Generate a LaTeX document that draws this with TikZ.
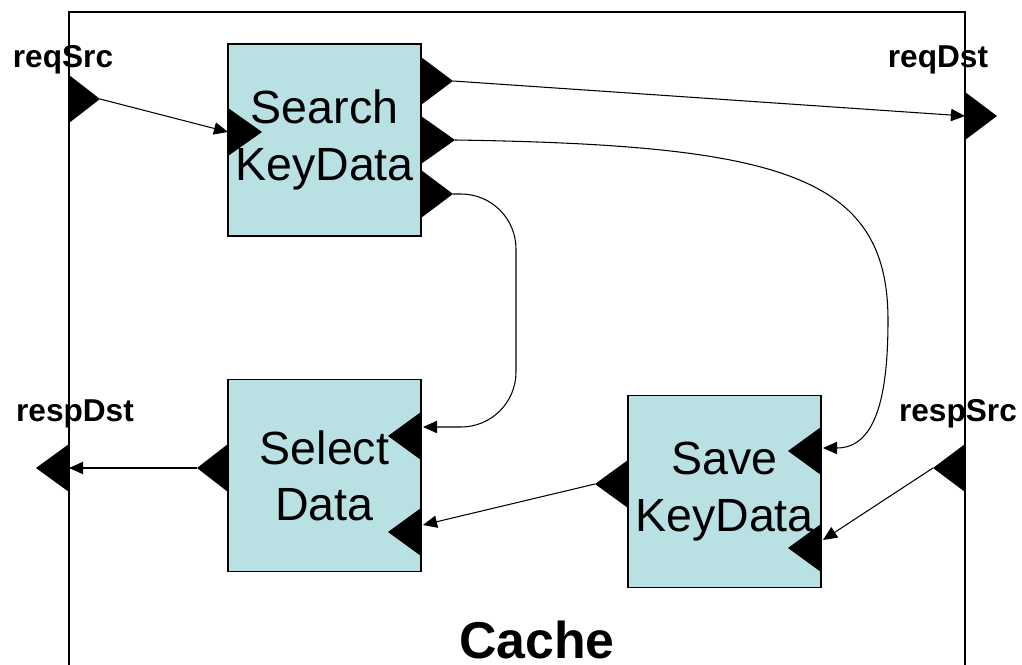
\documentclass[tikz,border=0pt]{standalone}
\usepackage{fontspec}
\setmainfont{Liberation Sans}
\usetikzlibrary{arrows.meta}
\definecolor{boxcyan}{RGB}{185,224,227}
\def\port(#1,#2,#3)#4{\fill (#1,#2-24) -- (#3,#2) -- (#1,#2+24) -- cycle; \coordinate (#4) at (#3,#2); \coordinate (#4-b) at (#1,#2);}

\begin{document}
\begin{tikzpicture}[x=0.02cm, y=-0.02cm,
		block/.style={draw, line width=1.1pt, fill=boxcyan, minimum width=3.86cm, minimum height=3.84cm, inner sep=0pt, align=center, font=\fontsize{26.5}{32}\selectfont},
		portlabel/.style={anchor=base, font=\bfseries\fontsize{18}{21}\selectfont},
		link/.style={line width=0.6pt, -{Triangle[length=8pt,width=7pt]}}]
			%%%%% FRAME %%%%%
			\useasboundingbox (0,0) rectangle (1022,665);
			
			\draw[line width=1.1pt] (69,665) -- (69,12) -- (965,12) -- (965,665);
			
			\node[portlabel] (reqsrc-l) at (63,68) {reqSrc};
			\node[portlabel] (reqdst-l) at (938,68) {reqDst};
			\node[portlabel] (respdst-l) at (75,422) {respDst};
			\node[portlabel] (respsrc-l) at (958,422) {respSrc};
			\node[anchor=base, font=\bfseries\fontsize{29.5}{35}\selectfont] (cache) at (537,659) {Cache};
			
			%%%%% BLOCKS %%%%%
			\node[block] (search) at (324.5,140) {Search\\KeyData};
			\node[block] (select) at (324.5,475.5) {Select\\Data};
			\node[block] (save) at (724.5,491.5) {Save\\KeyData};
			
			%%%%% PORTS %%%%%
			\port(69,99,100){reqsrc}
			\port(965,116,997){reqdst}
			\port(69,468,36){respdst}
			\port(965,468,933){respsrc}
			
			\port(228,132,262){searchin}
			\port(421,81,453){searchout1}
			\port(421,140,455){searchout2}
			\port(421,194,453){searchout3}
			
			\port(228,468,197){selout}
			\port(421,436,388){selin1}
			\port(421,532,388){selin2}
			
			\port(628,484,595){saveout}
			\port(821,451,788){savein1}
			\port(821,548,788){savein2}
			
			%%%%% LINKS %%%%%
			\draw[link] (reqsrc) -- (searchin-b);
			\draw[link] (searchout1) -- (reqdst-b);
			\draw[link] (searchout2) .. controls (780,145) and (888,175) .. (888,320) .. controls (888,390) and (878,448) .. ([shift={(2,-3)}]savein1-b);
			\draw[link, rounded corners=1.1cm] (searchout3) -| (516,313) |- ([shift={(2,-9)}]selin1-b);
			\draw[link] (saveout) -- ([shift={(2,-7)}]selin2-b);
			\draw[link] (respsrc) -- ([shift={(2,-8)}]savein2-b);
			\draw[link] (selout) -- (respdst-b);
			
			%%%%% END %%%%%
		\end{tikzpicture}
\end{document}
